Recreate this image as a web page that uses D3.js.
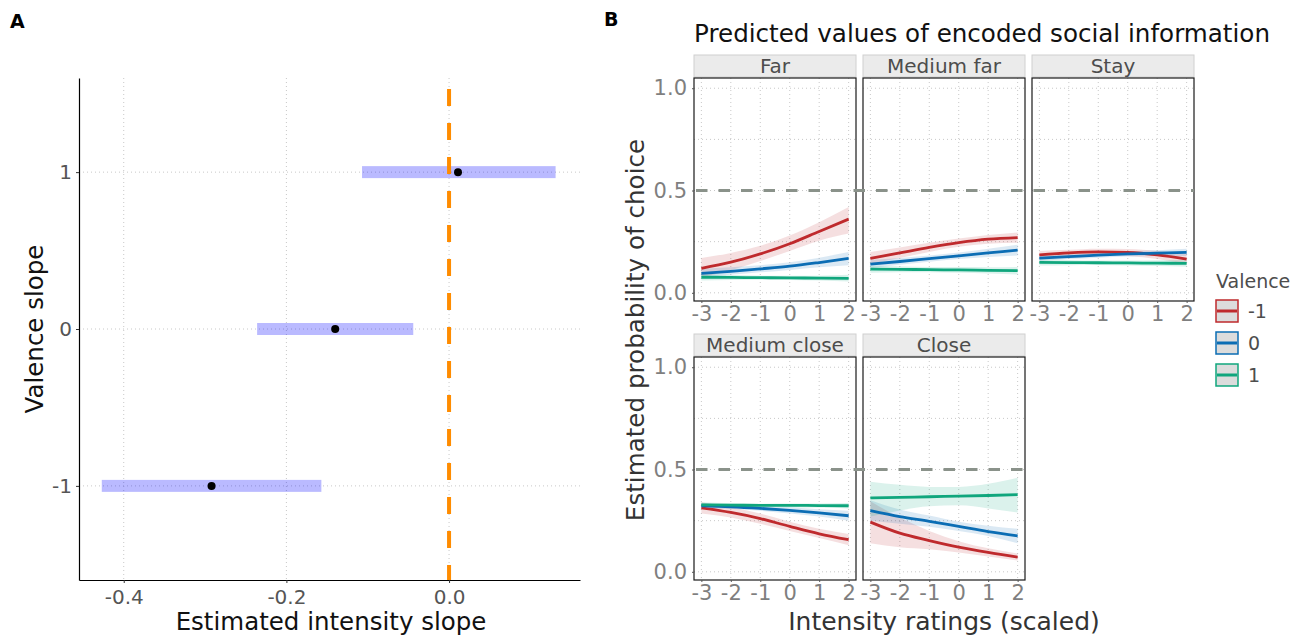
<!DOCTYPE html>
<html>
<head>
<meta charset="utf-8">
<script src="https://cdn.jsdelivr.net/npm/d3@7"></script>
<style>
  body { margin: 0; background: #fff; }
  text { font-family: "DejaVu Sans", sans-serif; }
</style>
</head>
<body>
<div id="chart"></div>
<script>
// ---------- panel A data ----------
const valenceA = [1, 0, -1];
const slopeEst = [0.011, -0.140, -0.292];
const slopeLow = [-0.107, -0.236, -0.427];
const slopeHigh = [0.131, -0.044, -0.157];
const xTicksA = [-0.4, -0.2, 0.0];
const xTickLabelsA = ["-0.4", "-0.2", "0.0"];
const yTickLabelsA = ["1", "0", "-1"];

// ---------- panel B data ----------
const intensity = [-3, -2, -1, 0, 1, 2];
const xTickLabelsB = ["-3", "-2", "-1", "0", "1", "2"];
const facetNames = ["Far", "Medium far", "Stay", "Medium close", "Close"];
const valences = ["-1", "0", "1"];
const valColors = ["#bf2a2d", "#0b6db4", "#10a67d"];

// rows: valence -1, 0, 1
const farFit  = [[0.12, 0.15, 0.19, 0.24, 0.30, 0.36], [0.095, 0.105, 0.117, 0.13, 0.148, 0.168], [0.076, 0.075, 0.074, 0.073, 0.072, 0.071]];
const farLow  = [[0.075, 0.11, 0.155, 0.205, 0.255, 0.29], [0.075, 0.088, 0.10, 0.112, 0.125, 0.135], [0.06, 0.063, 0.064, 0.063, 0.06, 0.055]];
const farHigh = [[0.17, 0.195, 0.23, 0.28, 0.345, 0.42], [0.118, 0.125, 0.135, 0.15, 0.172, 0.20], [0.092, 0.087, 0.084, 0.083, 0.084, 0.088]];

const medFarFit  = [[0.168, 0.195, 0.222, 0.245, 0.262, 0.27], [0.14, 0.153, 0.167, 0.181, 0.195, 0.209], [0.116, 0.115, 0.113, 0.112, 0.11, 0.108]];
const medFarLow  = [[0.14, 0.17, 0.20, 0.225, 0.24, 0.245], [0.12, 0.137, 0.152, 0.165, 0.175, 0.183], [0.098, 0.10, 0.10, 0.098, 0.095, 0.09]];
const medFarHigh = [[0.20, 0.222, 0.245, 0.265, 0.282, 0.295], [0.162, 0.17, 0.182, 0.197, 0.215, 0.235], [0.134, 0.13, 0.126, 0.126, 0.125, 0.126]];

const stayFit  = [[0.185, 0.195, 0.20, 0.197, 0.185, 0.165], [0.17, 0.177, 0.184, 0.19, 0.194, 0.198], [0.149, 0.148, 0.147, 0.146, 0.145, 0.144]];
const stayLow  = [[0.165, 0.18, 0.185, 0.18, 0.165, 0.14], [0.155, 0.165, 0.172, 0.177, 0.18, 0.18], [0.133, 0.135, 0.136, 0.134, 0.131, 0.128]];
const stayHigh = [[0.205, 0.21, 0.215, 0.214, 0.205, 0.19], [0.185, 0.19, 0.196, 0.203, 0.208, 0.216], [0.165, 0.161, 0.158, 0.158, 0.159, 0.16]];

const medCloseFit  = [[0.312, 0.29, 0.26, 0.222, 0.186, 0.157], [0.323, 0.318, 0.31, 0.30, 0.288, 0.274], [0.327, 0.326, 0.325, 0.325, 0.324, 0.323]];
const medCloseLow  = [[0.285, 0.265, 0.235, 0.20, 0.165, 0.13], [0.31, 0.307, 0.298, 0.285, 0.27, 0.25], [0.314, 0.317, 0.317, 0.316, 0.314, 0.31]];
const medCloseHigh = [[0.34, 0.315, 0.285, 0.245, 0.21, 0.185], [0.336, 0.329, 0.322, 0.315, 0.306, 0.298], [0.34, 0.335, 0.333, 0.334, 0.334, 0.336]];

const closeFit  = [[0.243, 0.189, 0.153, 0.121, 0.095, 0.072], [0.299, 0.27, 0.247, 0.222, 0.197, 0.176], [0.361, 0.364, 0.367, 0.37, 0.373, 0.377]];
const closeLow  = [[0.14, 0.12, 0.11, 0.095, 0.075, 0.055], [0.25, 0.235, 0.22, 0.20, 0.175, 0.14], [0.27, 0.30, 0.32, 0.325, 0.31, 0.29]];
const closeHigh = [[0.345, 0.265, 0.20, 0.15, 0.115, 0.09], [0.35, 0.305, 0.275, 0.245, 0.225, 0.21], [0.44, 0.425, 0.415, 0.415, 0.43, 0.46]];

const yTicksB = [0, 0.5, 1];
const yTickLabelsB = ["0.0", "0.5", "1.0"];

const W = 1304, H = 637;
const svg = d3.select("#chart").append("svg")
  .attr("width", W).attr("height", H)
  .style("background", "#fff");

// =====================================
// PANEL A
// =====================================
const xA = d3.scaleLinear().domain([-0.455, 0.161]).range([79, 580]);
const yA = d3.scaleLinear().domain([-1.6, 1.6]).range([580, 78]);

svg.append("text").attr("x", 10).attr("y", 28)
  .attr("font-size", 19).attr("font-weight", "bold").text("A");

const gA = svg.append("g");

// dotted grid
gA.selectAll(".vgrid").data(xTicksA).enter().append("line")
  .attr("x1", d => xA(d)).attr("x2", d => xA(d))
  .attr("y1", 78).attr("y2", 580)
  .attr("stroke", "#c8c8c8").attr("stroke-dasharray", "1,3");
gA.selectAll(".hgrid").data(valenceA).enter().append("line")
  .attr("x1", 79).attr("x2", 580)
  .attr("y1", d => yA(d)).attr("y2", d => yA(d))
  .attr("stroke", "#c8c8c8").attr("stroke-dasharray", "1,3");

// interval bars
gA.selectAll(".bar").data(valenceA).enter().append("rect")
  .attr("x", (d, i) => xA(slopeLow[i]))
  .attr("width", (d, i) => xA(slopeHigh[i]) - xA(slopeLow[i]))
  .attr("y", d => yA(d) - 6).attr("height", 12)
  .attr("fill", "#0000ff").attr("fill-opacity", 0.27);

// zero line
gA.append("line")
  .attr("x1", xA(0)).attr("x2", xA(0))
  .attr("y1", 78).attr("y2", 580)
  .attr("stroke", "#ff8c00").attr("stroke-width", 4)
  .attr("stroke-dasharray", "17,17").attr("stroke-dashoffset", 23);

// points
gA.selectAll(".pt").data(valenceA).enter().append("circle")
  .attr("cx", (d, i) => xA(slopeEst[i])).attr("cy", d => yA(d))
  .attr("r", 4).attr("fill", "#000");

// axes
const axA = gA.append("g").attr("transform", "translate(0,580)")
  .call(d3.axisBottom(xA).tickValues(xTicksA).tickFormat((d, i) => xTickLabelsA[i])
    .tickSize(3).tickSizeOuter(0).tickPadding(4));
const ayA = gA.append("g").attr("transform", "translate(79,0)")
  .call(d3.axisLeft(yA).tickValues(valenceA).tickFormat((d, i) => yTickLabelsA[i])
    .tickSize(3).tickSizeOuter(0).tickPadding(4));
[axA, ayA].forEach(a => {
  a.select(".domain").attr("stroke", "#000").attr("stroke-width", 1.2);
  a.selectAll(".tick line").attr("stroke", "#333");
  a.selectAll(".tick text").attr("font-size", 20).attr("fill", "#555")
    .attr("font-family", "DejaVu Sans");
});
axA.selectAll(".tick text").attr("dy", "0.85em");

svg.append("text").attr("x", 331).attr("y", 630)
  .attr("text-anchor", "middle").attr("font-size", 24.5).attr("fill", "#111")
  .text("Estimated intensity slope");
svg.append("text")
  .attr("transform", `translate(43,${yA(0)}) rotate(-90)`)
  .attr("text-anchor", "middle").attr("font-size", 24.5).attr("fill", "#111")
  .text("Valence slope");

// =====================================
// PANEL B
// =====================================
svg.append("text").attr("x", 604).attr("y", 26)
  .attr("font-size", 19).attr("font-weight", "bold").text("B");

svg.append("text").attr("x", 982).attr("y", 42)
  .attr("text-anchor", "middle").attr("font-size", 24.6).attr("fill", "#111")
  .text("Predicted values of encoded social information");

const facetData = [
  [farFit, farLow, farHigh],
  [medFarFit, medFarLow, medFarHigh],
  [stayFit, stayLow, stayHigh],
  [medCloseFit, medCloseLow, medCloseHigh],
  [closeFit, closeLow, closeHigh]
];

const colLeft = [694, 863, 1032];
const rowTop = [78, 357];
const pW = 162, pH = 223, stripH = 22;

const xB = d3.scaleLinear().domain([-3.25, 2.25]).range([0, pW]);
const yB = d3.scaleLinear().domain([-0.04, 1.05]).range([pH, 0]);

facetNames.forEach((name, f) => {
  const col = f % 3, row = Math.floor(f / 3);
  const g = svg.append("g").attr("transform", `translate(${colLeft[col]},${rowTop[row]})`);
  const [fit, low, high] = facetData[f];

  // strip
  g.append("rect").attr("x", 0).attr("y", -stripH - 1).attr("width", pW).attr("height", stripH)
    .attr("fill", "#ebebeb").attr("stroke", "#d0d0d0");
  g.append("text").attr("x", pW / 2).attr("y", -stripH / 2 - 1).attr("dy", "0.35em")
    .attr("text-anchor", "middle").attr("font-size", 20).attr("fill", "#4d4d4d").text(name);

  // grid
  g.selectAll(".hg").data([0, 0.25, 0.5, 0.75, 1]).enter().append("line")
    .attr("x1", 0).attr("x2", pW).attr("y1", d => yB(d)).attr("y2", d => yB(d))
    .attr("stroke", "#c8c8c8").attr("stroke-dasharray", "1,3");
  g.selectAll(".vg").data(intensity).enter().append("line")
    .attr("x1", d => xB(d)).attr("x2", d => xB(d)).attr("y1", 0).attr("y2", pH)
    .attr("stroke", "#c8c8c8").attr("stroke-dasharray", "1,3");

  // ribbons + lines
  valences.forEach((v, k) => {
    const area = d3.area().curve(d3.curveMonotoneX)
      .x((d, i) => xB(intensity[i]))
      .y0((d, i) => yB(low[k][i]))
      .y1((d, i) => yB(high[k][i]));
    g.append("path").datum(intensity).attr("d", area)
      .attr("fill", valColors[k]).attr("fill-opacity", 0.15);
  });
  valences.forEach((v, k) => {
    const line = d3.line().curve(d3.curveMonotoneX)
      .x((d, i) => xB(intensity[i]))
      .y((d, i) => yB(fit[k][i]));
    g.append("path").datum(intensity).attr("d", line)
      .attr("fill", "none").attr("stroke", valColors[k]).attr("stroke-width", 2.8);
  });

  // border
  g.append("rect").attr("width", pW).attr("height", pH)
    .attr("fill", "none").attr("stroke", "#1a1a1a").attr("stroke-width", 1.2);

  // x axis labels on every facet
  const ax = g.append("g").attr("transform", `translate(0,${pH})`)
    .call(d3.axisBottom(xB).tickValues(intensity).tickFormat((d, i) => xTickLabelsB[i])
      .tickSize(2).tickPadding(3));
  ax.select(".domain").remove();
  ax.selectAll(".tick line").attr("stroke", "#555");
  ax.selectAll(".tick text").attr("font-size", 21).attr("fill", "#7f7f7f")
    .attr("font-family", "DejaVu Sans");

  if (col === 0) {
    const ay = g.append("g")
      .call(d3.axisLeft(yB).tickValues(yTicksB).tickFormat((d, i) => yTickLabelsB[i]).tickSize(2).tickPadding(5));
    ay.select(".domain").remove();
    ay.selectAll(".tick line").attr("stroke", "#555");
    ay.selectAll(".tick text").attr("font-size", 21).attr("fill", "#7f7f7f")
      .attr("font-family", "DejaVu Sans");
  }
});

// reference line across each row (drawn over panels)
[3, 2].forEach((nCols, r) => {
  svg.append("line")
    .attr("x1", colLeft[0]).attr("x2", colLeft[nCols - 1] + pW)
    .attr("y1", rowTop[r] + yB(0.5)).attr("y2", rowTop[r] + yB(0.5))
    .attr("stroke", "#8a928a").attr("stroke-width", 3)
    .attr("stroke-dasharray", "11.5,11").attr("stroke-dashoffset", -2);
});

svg.append("text").attr("x", 944).attr("y", 630)
  .attr("text-anchor", "middle").attr("font-size", 25).attr("fill", "#333")
  .text("Intensity ratings (scaled)");
svg.append("text")
  .attr("transform", "translate(644,330) rotate(-90)")
  .attr("text-anchor", "middle").attr("font-size", 24.6).attr("fill", "#333")
  .text("Estimated probability of choice");

// legend
const leg = svg.append("g").attr("transform", "translate(1216,0)");
leg.append("text").attr("x", 0).attr("y", 288).attr("font-size", 19).attr("fill", "#4d4d4d").text("Valence");
valences.forEach((v, k) => {
  const y0 = 300 + k * 32;
  leg.append("rect").attr("x", 0).attr("y", y0).attr("width", 22).attr("height", 22)
    .attr("fill", "#dcdcdc").attr("stroke", valColors[k]).attr("stroke-width", 1.5);
  leg.append("line").attr("x1", 1).attr("x2", 21).attr("y1", y0 + 11).attr("y2", y0 + 11)
    .attr("stroke", valColors[k]).attr("stroke-width", 3);
  leg.append("text").attr("x", 32).attr("y", y0 + 11).attr("dy", "0.35em")
    .attr("font-size", 19).attr("fill", "#4d4d4d").text(v);
});
</script>
</body>
</html>
